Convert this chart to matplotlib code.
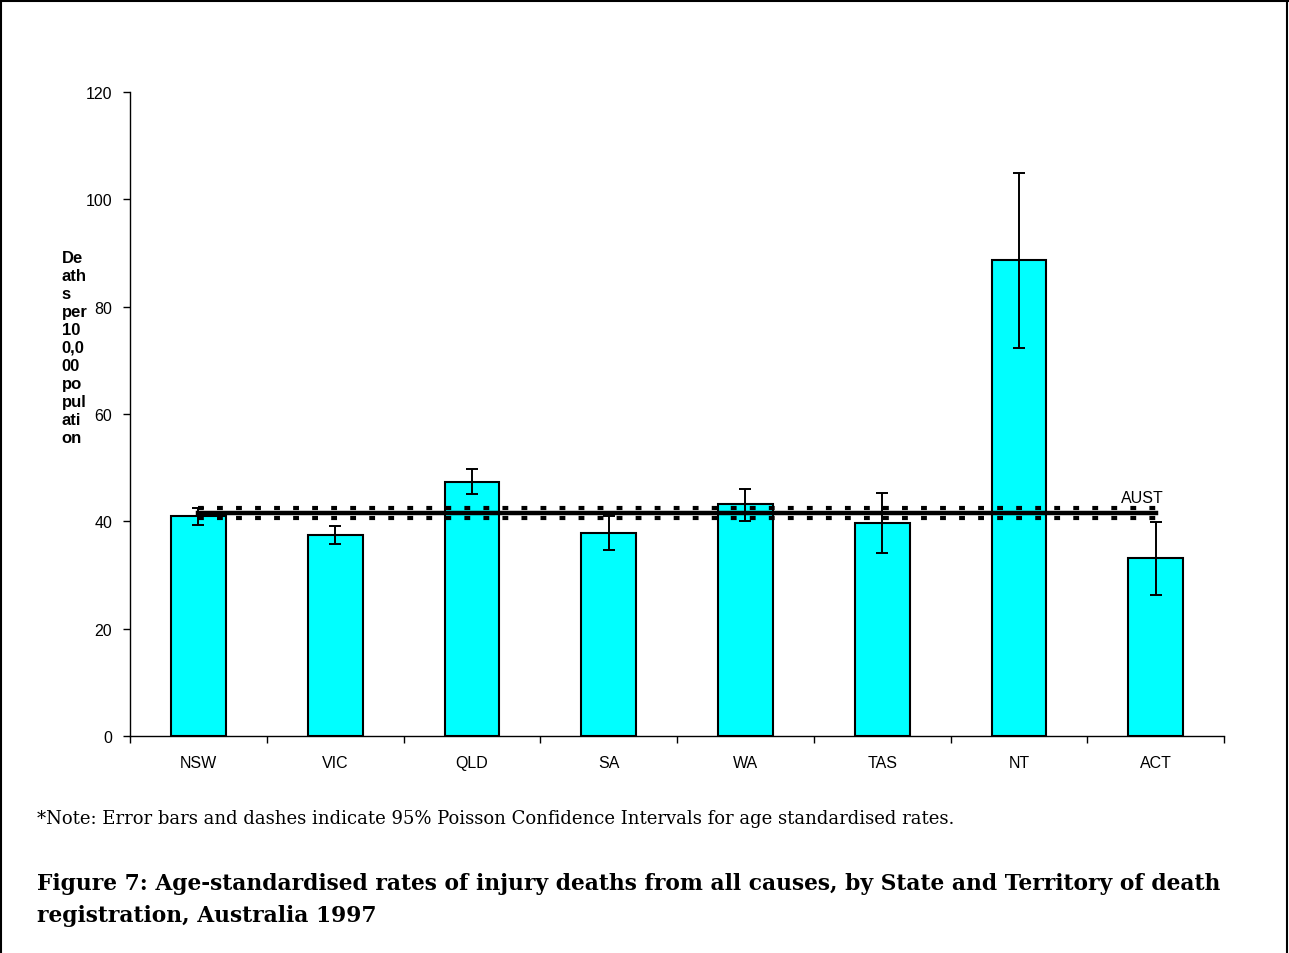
import matplotlib
matplotlib.use("Agg")
import matplotlib.pyplot as plt
import numpy as np
from matplotlib.lines import Line2D

# age-standardised injury death rates per 100,000, 1997
states = ['NSW', 'VIC', 'QLD', 'SA', 'WA', 'TAS', 'NT', 'ACT']
rates = [40.9, 37.4, 47.4, 37.8, 43.2, 39.7, 88.7, 33.1]
ci_low = [39.3, 35.7, 45.1, 34.7, 40.0, 34.1, 72.3, 26.3]
ci_high = [42.4, 39.2, 49.7, 40.9, 46.1, 45.3, 104.9, 39.9]

aust_rate = 41.5
aust_low = 40.6
aust_high = 42.4

plt.rcParams['lines.scale_dashes'] = False

fig = plt.figure(figsize=(12.89, 9.54), dpi=100)
ax = fig.add_axes([0.1009, 0.2275, 0.8487, 0.675])

x = np.arange(len(states))
ax.bar(x, rates, width=0.4, color='#00FFFF', edgecolor='black', linewidth=1.5, zorder=2)

# australian rate with its confidence band
ax.plot([x[0], x[-1]], [aust_rate, aust_rate], color='black', linewidth=3.2, zorder=3)
for v in [aust_low, aust_high]:
    ax.plot([x[0], x[-1]], [v, v], color='black', linewidth=3.0,
            linestyle=(0, (4.2, 9.5)), dash_capstyle='butt', zorder=3)
ax.text(x[-1] + 0.06, 43.0, 'AUST', ha='right', va='bottom',
        fontsize=11.5, family='Liberation Sans')

yerr = [np.array(rates) - np.array(ci_low), np.array(ci_high) - np.array(rates)]
ax.errorbar(x, rates, yerr=yerr, fmt='none', ecolor='black', elinewidth=1.4,
            capsize=4.5, capthick=1.4, zorder=4)

ax.set_xlim(-0.5, len(states) - 0.5)
ax.set_ylim(0, 120)
ax.set_yticks(np.arange(0, 121, 20))
ax.set_xticks(x)
ax.set_xticklabels(states)
ax.set_xticks(np.arange(-0.5, len(states)), minor=True)
ax.tick_params(axis='x', which='major', length=0, pad=14)
ax.tick_params(axis='x', which='minor', length=5, width=1, direction='out')
ax.tick_params(axis='y', length=5, width=1, direction='out', pad=8)
for lab in ax.get_xticklabels() + ax.get_yticklabels():
    lab.set_family('Liberation Sans')
    lab.set_fontsize(11.5)
ax.spines['top'].set_visible(False)
ax.spines['right'].set_visible(False)
ax.spines['left'].set_linewidth(1)
ax.spines['bottom'].set_linewidth(1)

fig.text(0.048, 0.737, 'De\nath\ns\nper\n10\n0,0\n00\npo\npul\nati\non',
         ha='left', va='top', fontsize=12, fontweight='bold',
         family='Liberation Sans', linespacing=1.25)

fig.text(0.029, 0.142, '*Note: Error bars and dashes indicate 95% Poisson Confidence Intervals for age standardised rates.',
         ha='left', va='center', fontsize=13, family='DejaVu Serif')
fig.text(0.029, 0.0566, 'Figure 7: Age-standardised rates of injury deaths from all causes, by State and Territory of death\nregistration, Australia 1997',
         ha='left', va='center', fontsize=15.7, fontweight='bold',
         family='DejaVu Serif', linespacing=1.62)

# page frame
for xs, ys in [([0.0008, 0.0008], [0, 0.998]), ([0, 0.999], [0.9975, 0.9975]),
               ([0.9988, 0.9988], [0, 0.998])]:
    fig.add_artist(Line2D(xs, ys, color='black', linewidth=1.5, transform=fig.transFigure))

fig.savefig('out.png', dpi=100)
